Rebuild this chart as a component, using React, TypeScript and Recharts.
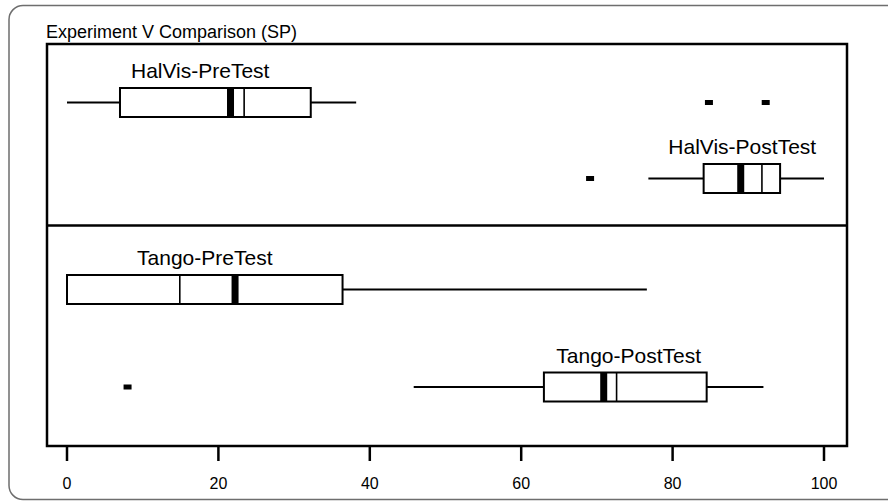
import React from "react";
import { Bar, ComposedChart, XAxis, YAxis } from "recharts";

// values (score, 0-100)
const groups = ["HalVis-PreTest", "HalVis-PostTest", "Tango-PreTest", "Tango-PostTest"];
const minVals = [0, 76.8, 0, 45.8];
const q1Vals = [7.0, 84.1, 0, 63.0];
const medianVals = [21.6, 89.0, 22.2, 70.9];
const meanVals = [23.4, 91.8, 14.9, 72.6];
const q3Vals = [32.2, 94.2, 36.4, 84.5];
const maxVals = [38.2, 100, 76.6, 92.0];
const outlierVals = [[84.8, 92.3], [69.1], [], [8.0]];
const labelAt = [17.6, 89.2, 18.2, 74.2];
const xTicks = [0, 20, 40, 60, 80, 100];

const rows = groups.map((name, i) => ({
  name,
  min: minVals[i],
  q1: q1Vals[i],
  median: medianVals[i],
  mean: meanVals[i],
  q3: q3Vals[i],
  max: maxVals[i],
  outliers: outlierVals[i],
  labelAt: labelAt[i],
}));

const FONT = "'Liberation Sans', Arial, sans-serif";

function BoxShape(props: any) {
  const { x, y, width, height, payload } = props;
  const d = payload;
  // pixel per unit from the bar the library placed between q1 and q3
  const k = width / (d.q3 - d.q1);
  const px = (v: number) => x + (v - d.q1) * k;
  const cy = y + height / 2;
  return (
    <g>
      {d.min < d.q1 && (
        <line x1={px(d.min)} x2={x} y1={cy} y2={cy} stroke="#000" strokeWidth={2} />
      )}
      {d.max > d.q3 && (
        <line x1={x + width} x2={px(d.max)} y1={cy} y2={cy} stroke="#000" strokeWidth={2} />
      )}
      <rect x={x} y={y} width={width} height={height} fill="#fff" stroke="#000" strokeWidth={2} />
      <line x1={px(d.mean)} x2={px(d.mean)} y1={y} y2={y + height} stroke="#000" strokeWidth={1.6} />
      <rect x={px(d.median) - 3.5} y={y} width={7} height={height} fill="#000" />
      {d.outliers.map((o: number, i: number) => (
        <rect key={i} x={px(o) - 4} y={cy - 2.5} width={8} height={5} fill="#000" />
      ))}
      <text
        x={px(d.labelAt)}
        y={y - 10}
        textAnchor="middle"
        fontSize={21}
        fontFamily={FONT}
        fill="#000"
      >
        {d.name}
      </text>
    </g>
  );
}

function Panel({
  data,
  height,
  padTop,
  padBottom,
  showAxis,
}: {
  data: any[];
  height: number;
  padTop: number;
  padBottom: number;
  showAxis: boolean;
}) {
  return (
    <ComposedChart
      width={800}
      height={height}
      data={data}
      layout="vertical"
      margin={{ top: 0, right: 0, bottom: 0, left: 0 }}
    >
      <XAxis
        type="number"
        domain={[0, 100]}
        ticks={xTicks}
        hide={!showAxis}
        height={50}
        padding={{ left: 20, right: 23 }}
        axisLine={false}
        tickLine={{ stroke: "#000", strokeWidth: 2.5 }}
        tickSize={15}
        tickMargin={17}
        tick={{ fontSize: 16, fill: "#000", fontFamily: FONT }}
      />
      <YAxis type="category" dataKey="name" hide padding={{ top: padTop, bottom: padBottom }} />
      <Bar
        dataKey={(d: any) => [d.q1, d.q3]}
        barSize={29}
        shape={<BoxShape />}
        isAnimationActive={false}
      />
    </ComposedChart>
  );
}

export default function App() {
  return (
    <div
      style={{
        position: "fixed",
        left: 0,
        top: 0,
        width: 888,
        height: 502,
        overflow: "hidden",
        background: "#fff",
        fontFamily: FONT,
      }}
    >
      <div style={{ position: "absolute", left: 47, top: 44 }}>
        <Panel data={rows.slice(0, 2)} height={181} padTop={20} padBottom={9} showAxis={false} />
      </div>
      <div style={{ position: "absolute", left: 47, top: 225 }}>
        <Panel data={rows.slice(2)} height={271} padTop={16} padBottom={10} showAxis />
      </div>
      <svg
        width={888}
        height={502}
        style={{ position: "absolute", left: 0, top: 0, pointerEvents: "none" }}
      >
        <rect x={9} y={5.5} width={900} height={494} rx={14} fill="none" stroke="#6e6e6e" strokeWidth={1.5} />
        <text x={46} y={38} fontSize={18} fontFamily={FONT} fill="#000">
          Experiment V Comparison (SP)
        </text>
        <rect x={47} y={44} width={800} height={402} fill="none" stroke="#000" strokeWidth={2.5} />
        <line x1={47} x2={847} y1={225.5} y2={225.5} stroke="#000" strokeWidth={2.5} />
      </svg>
    </div>
  );
}
